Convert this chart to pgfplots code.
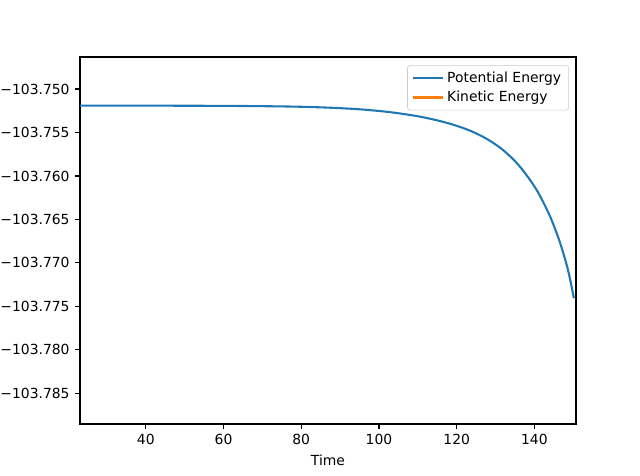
\documentclass[border=0pt]{standalone}
\usepackage{fontspec}
\setmainfont{DejaVu Sans}
\usepackage{pgfplots}
\pgfplotsset{compat=1.18}
\definecolor{mplblue}{HTML}{1F77B4}
\definecolor{mplorange}{HTML}{FF7F0E}
\begin{document}
\fontsize{10}{12}\selectfont
\begin{tikzpicture}
\path[use as bounding box] (0,0) rectangle (460.8pt,342.72pt);
\begin{axis}[
  at={(57.6pt,37.44pt)}, anchor=south west,
  scale only axis, width=357.1pt, height=264.2pt,
  xmin=23.07, xmax=150.7,
  ymin=-103.78853, ymax=-103.74632,
  axis line style={line width=0.8pt},
  tick align=outside, tick pos=left,
  major tick length=3.5pt,
  every tick/.style={black, line width=0.8pt},
  xtick={40,60,80,100,120,140},
  xticklabels={40,60,80,100,120,140},
  ytick={-103.785,-103.780,-103.775,-103.770,-103.765,-103.760,-103.755,-103.750},
  yticklabels={−103.785,−103.780,−103.775,−103.770,−103.765,−103.760,−103.755,−103.750},
  ticklabel style={font=\fontsize{10}{12}\selectfont, color=black},
  xticklabel style={yshift=-0.5pt},
  yticklabel style={xshift=-0.5pt},
  xlabel={Time},
  xlabel style={font=\fontsize{10}{12}\selectfont, yshift=0pt},
  scaled y ticks=false,
  legend style={at={(rel axis cs:1,1)}, anchor=north east, xshift=-5pt, yshift=-5.8pt,
    draw=black!20, rounded corners=2pt, fill=white, fill opacity=0.8, text opacity=1,
    font=\fontsize{10}{12}\selectfont, inner xsep=3.5pt, inner ysep=2.5pt, row sep=1pt},
  legend cell align=left,
  legend image code/.code={\draw[#1, line width=1.5pt] (0pt,0pt) -- (21.6pt,0pt);},
]
\addplot[mplblue, line width=1.5pt, smooth] coordinates {
(23,-103.75190) (50,-103.75192) (65,-103.75195) (78,-103.75202) (87,-103.75214)
(95,-103.75233) (102.7,-103.75265) (110,-103.75313) (115.6,-103.75367) (119.5,-103.75416)
(123.33,-103.75477) (127.62,-103.75570) (131.9,-103.75700) (136.19,-103.75888)
(140.49,-103.76154) (143.91,-103.76453) (146.48,-103.76752) (148.62,-103.77076)
(150.16,-103.77406)
};
\addlegendentry{Potential Energy}
\addlegendimage{mplorange}
\addlegendentry{Kinetic Energy}
\end{axis}
\end{tikzpicture}
\end{document}
